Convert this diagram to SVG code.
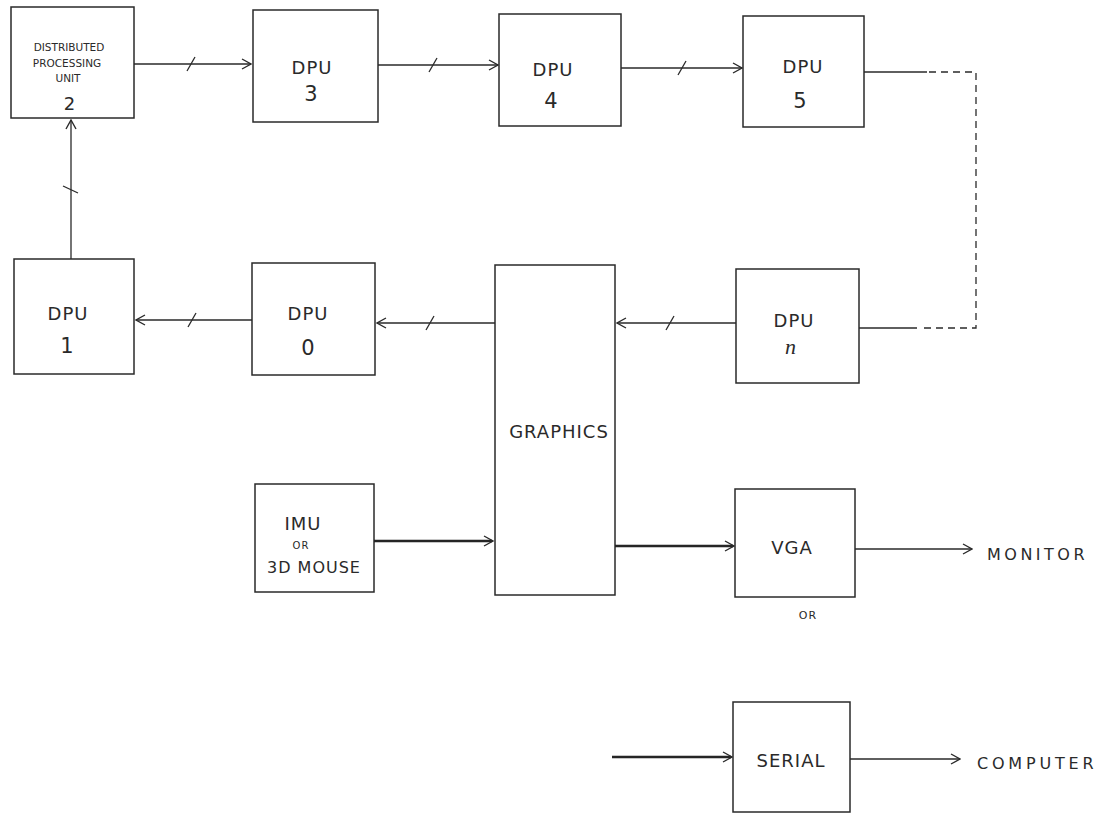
<svg xmlns="http://www.w3.org/2000/svg" width="1103" height="813" viewBox="0 0 1103 813">
<defs>
<style>
.box{fill:none;stroke:#2a2a2a;stroke-width:1.5}
.ln{fill:none;stroke:#2a2a2a;stroke-width:1.3}
.thick{fill:none;stroke:#1a1a1a;stroke-width:2.6}
.dash{fill:none;stroke:#2a2a2a;stroke-width:1.3;stroke-dasharray:7,5}
.t{font-family:"DejaVu Sans","Liberation Sans",sans-serif;fill:#2a2a2a;text-anchor:middle;font-size:18px;letter-spacing:1px}
.d{font-size:21px;letter-spacing:0}
.s{font-size:10.5px;letter-spacing:0}
.o{text-anchor:start}
</style>
<marker id="ah" viewBox="0 0 12 12" refX="11" refY="6" markerWidth="12" markerHeight="12" markerUnits="userSpaceOnUse" orient="auto">
<path d="M2,1 L11,6 L2,11" fill="none" stroke="#2a2a2a" stroke-width="1.4"/>
</marker>
</defs>
<rect width="1103" height="813" fill="#fff"/>
<g id="dpu2"><rect class="box" x="11" y="7" width="123" height="111"/>
<text class="t s" x="69" y="51">DISTRIBUTED</text>
<text class="t s" x="67" y="67">PROCESSING</text>
<text class="t s" x="68" y="82">UNIT</text>
<text class="t" x="70" y="110" style="font-size:18px">2</text></g>
<g id="dpu3"><rect class="box" x="253" y="10" width="125" height="112"/>
<text class="t" x="312" y="74">DPU</text><text class="t d" x="311" y="101">3</text></g>
<g id="dpu4"><rect class="box" x="499" y="14" width="122" height="112"/>
<text class="t" x="553" y="76">DPU</text><text class="t d" x="551" y="108">4</text></g>
<g id="dpu5"><rect class="box" x="743" y="16" width="121" height="111"/>
<text class="t" x="803" y="73">DPU</text><text class="t d" x="800" y="108">5</text></g>
<g id="dpu1"><rect class="box" x="14" y="259" width="120" height="115"/>
<text class="t" x="68" y="320">DPU</text><text class="t d" x="67" y="353">1</text></g>
<g id="dpu0"><rect class="box" x="252" y="263" width="123" height="112"/>
<text class="t" x="308" y="320">DPU</text><text class="t d" x="308" y="355">0</text></g>
<g id="graphics"><rect class="box" x="495" y="265" width="120" height="330"/>
<text class="t" x="559" y="438">GRAPHICS</text></g>
<g id="dpun"><rect class="box" x="736" y="269" width="123" height="114"/>
<text class="t" x="794" y="327">DPU</text><text class="t" x="791" y="354" style="font-family:'Liberation Serif',serif;font-style:italic;font-size:22px">n</text></g>
<g id="imu"><rect class="box" x="255" y="484" width="119" height="108"/>
<text class="t" x="303" y="530">IMU</text>
<text class="t" x="301" y="549" style="font-size:10px">OR</text>
<text class="t" x="314" y="573" style="font-size:16px">3D MOUSE</text></g>
<g id="vga"><rect class="box" x="735" y="489" width="120" height="108"/>
<text class="t" x="792" y="554">VGA</text></g>
<g id="serial"><rect class="box" x="733" y="702" width="117" height="110"/>
<text class="t" x="791" y="767">SERIAL</text></g>
<g id="labels">
<text class="t o" x="987" y="560" style="font-size:16px;letter-spacing:3.5px">MONITOR</text>
<text class="t" x="808" y="619" style="font-size:11px">OR</text>
<text class="t o" x="977" y="769" style="font-size:16px;letter-spacing:3.8px">COMPUTER</text>
</g>
<g id="connectors">
<path class="ln" d="M134,64 H251" marker-end="url(#ah)"/><path class="ln" d="M187,71 L195,57"/>
<path class="ln" d="M378,65 H498" marker-end="url(#ah)"/><path class="ln" d="M429,72 L437,58"/>
<path class="ln" d="M621,68 H742" marker-end="url(#ah)"/><path class="ln" d="M678,75 L686,61"/>
<path class="ln" d="M864,72 H927"/>
<path class="dash" d="M929,72 H976 V328 H919"/>
<path class="ln" d="M917,328 H859"/>
<path class="ln" d="M736,323 H617" marker-end="url(#ah)"/><path class="ln" d="M666,330 L674,316"/>
<path class="ln" d="M495,323 H377" marker-end="url(#ah)"/><path class="ln" d="M426,330 L434,316"/>
<path class="ln" d="M252,320 H136" marker-end="url(#ah)"/><path class="ln" d="M188,327 L196,313"/>
<path class="ln" d="M71,259 V120" marker-end="url(#ah)"/><path class="ln" d="M63,186 L78,193"/>
<path class="thick" d="M374,541 H492"/><path class="ln" d="M374,541 H493" marker-end="url(#ah)"/>
<path class="thick" d="M615,546 H733"/><path class="ln" d="M615,546 H734" marker-end="url(#ah)"/>
<path class="ln" d="M855,549 H972" marker-end="url(#ah)"/>
<path class="thick" d="M612,757 H731"/><path class="ln" d="M612,757 H732" marker-end="url(#ah)"/>
<path class="ln" d="M850,759 H960" marker-end="url(#ah)"/>
</g>
</svg>
